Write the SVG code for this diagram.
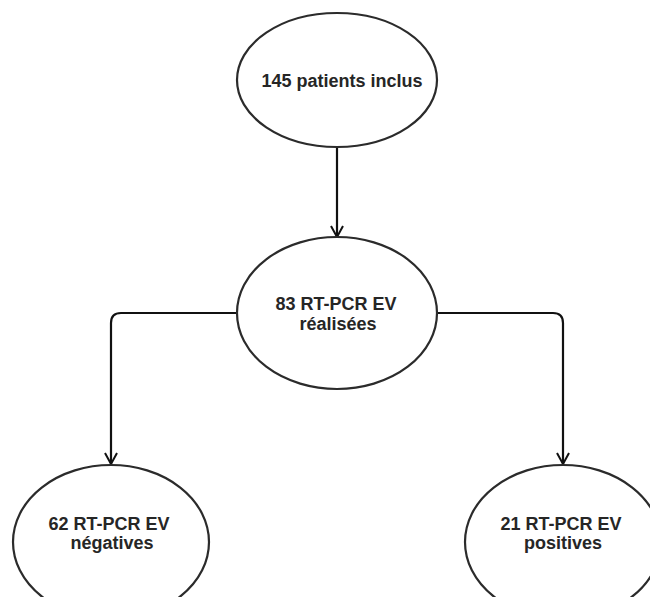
<svg xmlns="http://www.w3.org/2000/svg" width="650" height="597" viewBox="0 0 650 597">
<style>
.node ellipse{fill:#fff;stroke:#2b2b2b;stroke-width:2.2}
.node text{font-family:"Liberation Sans",Arial,sans-serif;font-size:18px;font-weight:bold;fill:#262626;text-anchor:middle}
.conn path{fill:none;stroke:#111;stroke-width:2.2}
</style>
<defs>
<marker id="arr" viewBox="0 0 14 14" refX="12" refY="7" markerWidth="14" markerHeight="14" markerUnits="userSpaceOnUse" orient="auto">
<path d="M1,1 L12,7 L1,13" fill="none" stroke="#111" stroke-width="2"/>
</marker>
</defs>
<rect width="650" height="597" fill="#fff"/>
<g class="conn">
<path d="M337,146 L337,237" marker-end="url(#arr)"/>
<path d="M237,313 L121,313 Q111,313 111,323 L111,464" marker-end="url(#arr)"/>
<path d="M437,313 L553,313 Q563,313 563,323 L563,464" marker-end="url(#arr)"/>
</g>
<g class="node" id="n1">
<ellipse cx="337" cy="80" rx="100" ry="67"/>
<text x="342" y="87" font-size="19">145 patients inclus</text>
</g>
<g class="node" id="n2">
<ellipse cx="337" cy="313" rx="100" ry="76"/>
<text x="336" y="310">83 RT-PCR EV</text>
<text x="338" y="330">réalisées</text>
</g>
<g class="node" id="n3">
<ellipse cx="111" cy="542" rx="98" ry="77"/>
<text x="109" y="530">62 RT-PCR EV</text>
<text x="112" y="549">négatives</text>
</g>
<g class="node" id="n4">
<ellipse cx="563" cy="542" rx="98" ry="77"/>
<text x="561" y="530">21 RT-PCR EV</text>
<text x="563" y="549">positives</text>
</g>
</svg>
